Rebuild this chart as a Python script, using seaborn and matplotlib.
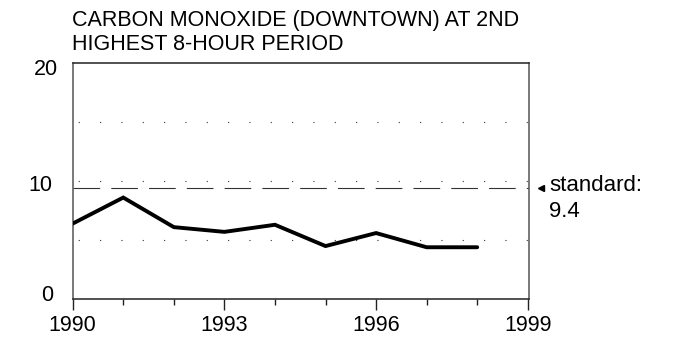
import matplotlib
matplotlib.use("Agg")
import matplotlib.pyplot as plt
from matplotlib.transforms import ScaledTranslation, blended_transform_factory
import seaborn as sns
import pandas as pd

# Carbon monoxide, 2nd highest 8-hour average (ppm), downtown monitor
years = [1990, 1991, 1992, 1993, 1994, 1995, 1996, 1997, 1998]
co_ppm = [6.4, 8.6, 6.1, 5.7, 6.3, 4.5, 5.6, 4.4, 4.4]
standard = 9.4
title = "CARBON MONOXIDE (DOWNTOWN) AT 2ND\nHIGHEST 8-HOUR PERIOD"
ytick_values = [0, 10, 20]
xtick_major = [1990, 1993, 1996, 1999]
xtick_minor = list(range(1990, 2000))
grid_levels = [5, 10, 15]

sns.set_theme(style="white")
plt.rcParams["font.family"] = ["Liberation Sans", "DejaVu Sans"]

df = pd.DataFrame({"year": years, "co": co_ppm})

fig = plt.figure(figsize=(6.77, 3.41), dpi=100)
ax = fig.add_axes([72.7 / 677, 1 - 299.3 / 341, (529.3 - 72.7) / 677, (299.3 - 62.7) / 341])

# dotted reference levels
for lvl in grid_levels:
    ax.axhline(lvl, color="#333333", lw=0.8, linestyle=(14.5, (1, 18.2)), zorder=1)

# air-quality standard
ax.axhline(standard, color="#333333", lw=0.8, linestyle=(0, (24, 10)), zorder=2)

sns.lineplot(data=df, x="year", y="co", ax=ax, color="black", lw=2.8,
             solid_joinstyle="miter", zorder=3)

ax.set_xlim(1990, 1999.03)
ax.set_ylim(0, 20)
ax.set_xlabel("")
ax.set_ylabel("")

ax.set_xticks(xtick_major)
ax.set_xticklabels([str(y) for y in xtick_major])
ax.set_xticks(xtick_minor, minor=True)
ax.tick_params(axis="x", which="major", bottom=True, length=8, width=1,
               color="#222222", labelsize=15.5, pad=3, labelcolor="black")
ax.tick_params(axis="x", which="minor", bottom=True, length=4.5, width=1,
               color="#222222")

ax.set_yticks(ytick_values)
ax.set_yticklabels([str(v) for v in ytick_values])
ax.tick_params(axis="y", left=False, length=0, labelsize=15.5, pad=13,
               labelcolor="black")
# small per-label nudges
offsets = {0: (-1, 6), 10: (-2, -2), 20: (3, -4)}
for tick, val in zip(ax.yaxis.get_major_ticks(), ytick_values):
    dx, dy = offsets[val]
    tick.label1.set_transform(tick.label1.get_transform()
                              + ScaledTranslation(dx / 100, dy / 100, fig.dpi_scale_trans))

for side in ["left", "right"]:
    ax.spines[side].set_color("#555555")
    ax.spines[side].set_linewidth(1.1)
for side in ["top", "bottom"]:
    ax.spines[side].set_color("#222222")
    ax.spines[side].set_linewidth(1.1)

fig.text(72 / 677, 1 - 50 / 341, title, ha="left", va="baseline",
         fontsize=15.5, color="black", linespacing=1.17)

# label for the standard line, outside the frame
tr = blended_transform_factory(ax.transAxes, ax.transData)
ax.plot([1.0256], [standard], marker="<", color="black", markersize=5,
        transform=tr, clip_on=False)
ax.text(1.043, standard, "standard:\n9.4", ha="left", va="top",
        fontsize=16, color="black", linespacing=1.3,
        transform=tr + ScaledTranslation(0, 0.13, fig.dpi_scale_trans))

fig.savefig("out.png", dpi=100)
